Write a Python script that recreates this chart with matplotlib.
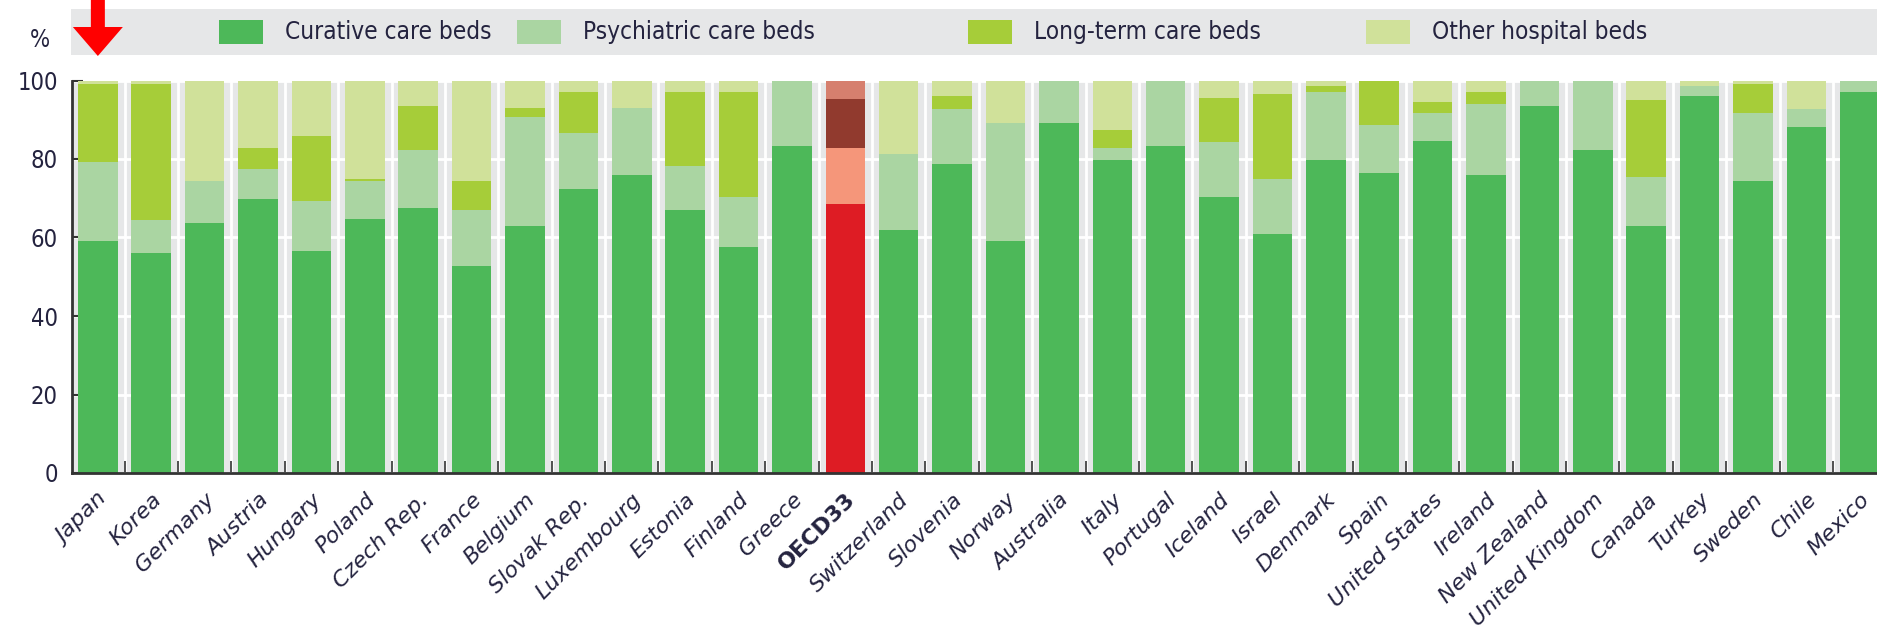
import numpy as np
import matplotlib
matplotlib.use('Agg')
import matplotlib.pyplot as plt
import matplotlib.transforms as mtransforms
from matplotlib.patches import Rectangle, FancyArrow

# 데이터 (%)
countries = ['Japan', 'Korea', 'Germany', 'Austria', 'Hungary', 'Poland', 'Czech Rep.',
             'France', 'Belgium', 'Slovak Rep.', 'Luxembourg', 'Estonia', 'Finland', 'Greece',
             'OECD33', 'Switzerland', 'Slovenia', 'Norway', 'Australia', 'Italy', 'Portugal',
             'Iceland', 'Israel', 'Denmark', 'Spain', 'United States', 'Ireland', 'New Zealand',
             'United Kingdom', 'Canada', 'Turkey', 'Sweden', 'Chile', 'Mexico']
curative = [59.2, 56.0, 63.8, 69.7, 56.5, 64.8, 67.6, 52.8, 62.9, 72.3, 76.0, 67.0, 57.5, 83.4,
            68.6, 61.8, 78.6, 59.1, 89.2, 79.7, 83.4, 70.2, 60.8, 79.7, 76.5, 84.5, 76.0, 93.4,
            82.4, 62.9, 96.1, 74.5, 88.1, 97.1]
psychiatric = [20.0, 8.4, 10.6, 7.8, 12.7, 9.5, 14.7, 14.2, 27.8, 14.2, 16.9, 11.1, 12.7, 16.6,
               14.2, 19.6, 14.2, 30.1, 10.8, 3.1, 16.6, 14.2, 14.1, 17.4, 12.1, 7.3, 17.9, 6.6,
               17.6, 12.5, 2.5, 17.3, 4.7, 2.9]
long_term = [20.0, 34.8, 0.0, 5.4, 16.7, 0.6, 11.1, 7.4, 2.2, 10.6, 0.0, 19.0, 26.9, 0.0,
             12.6, 0.0, 3.3, 0.0, 0.0, 4.7, 0.0, 11.1, 21.6, 1.5, 11.4, 2.6, 3.2, 0.0,
             0.0, 19.6, 0.0, 7.4, 0.0, 0.0]
other = [0.8, 0.8, 25.6, 17.1, 14.1, 25.1, 6.6, 25.6, 7.1, 2.9, 7.1, 2.9, 2.9, 0.0,
         4.6, 18.6, 3.9, 10.8, 0.0, 12.5, 0.0, 4.5, 3.5, 1.4, 0.0, 5.6, 2.9, 0.0,
         0.0, 5.0, 1.4, 0.8, 7.2, 0.0]
series_names = ['Curative care beds', 'Psychiatric care beds', 'Long-term care beds', 'Other hospital beds']

green_cols = ['#4db859', '#aad5a2', '#a6cd39', '#d0e19a']
red_cols = ['#de1c24', '#f5967a', '#913a2e', '#d67f6e']
highlight = 'OECD33'

TXT = '#24233f'
plt.rcParams['font.family'] = ['DejaVu Sans']
plt.rcParams['font.stretch'] = 'condensed'

W, H = 1877, 636
fig = plt.figure(figsize=(W / 100, H / 100), dpi=100)
ax = fig.add_axes([71.7 / W, 1 - 473 / H, 1 - 71.7 / W, (473 - 80.5) / H])
ax.set_facecolor('#e6e7e8')

x = np.arange(len(countries))
stack = [curative, psychiatric, long_term, other]
bottom = np.zeros(len(countries))
for i, vals in enumerate(stack):
    vals = np.array(vals)
    cols = [red_cols[i] if c == highlight else green_cols[i] for c in countries]
    ax.bar(x, vals, bottom=bottom, width=0.74, color=cols, zorder=3, linewidth=0)
    bottom += vals

ax.set_xlim(-0.49, len(countries) - 1 + 0.324)
ax.set_ylim(0, 100)
ax.set_yticks([0, 20, 40, 60, 80, 100])
ax.tick_params(axis='y', direction='in', length=8, width=1.5, color='#333333',
               labelsize=17, labelcolor=TXT, pad=10)
ax.set_xticks(x)
ax.set_xticks(x[:-1] + 0.5, minor=True)
ax.tick_params(axis='x', which='major', length=0, pad=12)
ax.tick_params(axis='x', which='minor', direction='in', length=9, width=1.2, color='#333333')
ax.set_xticklabels(countries, rotation=45, ha='right', va='top', rotation_mode='anchor',
                   fontsize=16, color=TXT, style='italic', fontstretch='normal')
for lbl in ax.get_xticklabels():
    if lbl.get_text() == highlight:
        lbl.set_fontweight('bold')
        lbl.set_style('normal')

ax.grid(axis='y', color='white', linewidth=2, zorder=1)
ax.grid(axis='x', which='minor', color='white', linewidth=2, zorder=1)
for s in ['top', 'right']:
    ax.spines[s].set_visible(False)
for s in ['left', 'bottom']:
    ax.spines[s].set_color('#333333')
    ax.spines[s].set_linewidth(2)
    ax.spines[s].set_zorder(4)

# 범례 (회색 박스)
fig.patches.append(Rectangle((70.5 / W, 1 - 55 / H), 1, 46 / H, transform=fig.transFigure,
                             facecolor='#e6e7e8', edgecolor='none', zorder=0))
patch_x = [219, 517, 968, 1366]
for px, name, col in zip(patch_x, series_names, green_cols):
    fig.patches.append(Rectangle((px / W, 1 - 44 / H), 44 / W, 24 / H, transform=fig.transFigure,
                                 facecolor=col, edgecolor='none', zorder=1))
    fig.text((px + 66) / W, 1 - 32 / H, name, fontsize=17.5, color=TXT, va='center', ha='left')

fig.text(40 / W, 1 - 40 / H, '%', fontsize=17, color=TXT, ha='center', va='center')

# 빨간 화살표 (Japan)
trans = mtransforms.blended_transform_factory(ax.transData, fig.transFigure)
arr = FancyArrow(0, 1.0, 0, -56 / H, width=14 / 53.4, head_width=50 / 53.4, head_length=29 / H,
                 length_includes_head=True, transform=trans, color='#ff0000', linewidth=0,
                 clip_on=False)
fig.patches.append(arr)

fig.savefig('out.png', dpi=100)
